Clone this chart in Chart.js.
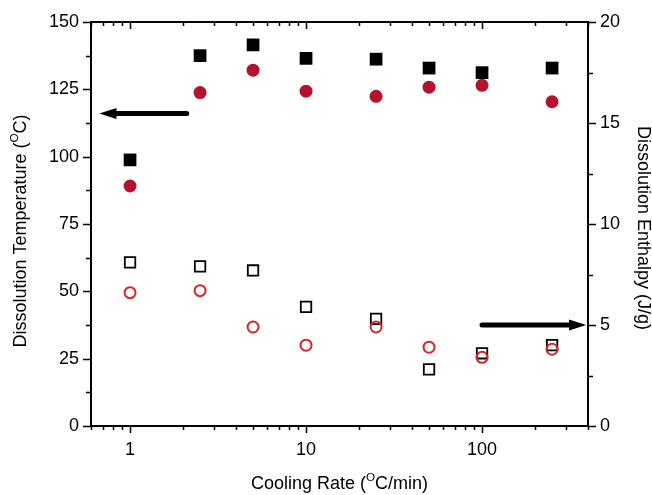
<!DOCTYPE html>
<html>
<head>
<meta charset="utf-8">
<script src="https://cdn.jsdelivr.net/npm/chart.js@4/dist/chart.umd.min.js"></script>
<style>
  html, body { margin: 0; padding: 0; background: #fff; }
  #wrap { width: 652px; height: 495px; }
</style>
</head>
<body>
<div id="wrap"><canvas id="chartCanvas" width="652" height="495"></canvas></div>
<script>
// cooling rate (°C/min) on a log axis
const coolingRates = [1, 2.5, 5, 10, 25, 50, 100, 250];
// dissolution temperature, left axis
const tempSquares = [98.8, 137.5, 141.5, 136.5, 136.2, 132.9, 131.2, 132.9];
const tempCircles = [89.1, 123.8, 132.1, 124.3, 122.4, 125.8, 126.5, 120.4];
// dissolution enthalpy, right axis
const enthalpySquares = [8.1, 7.9, 7.7, 5.9, 5.3, 2.8, 3.6, 4.0];
const enthalpyCircles = [6.6, 6.7, 4.9, 4.0, 4.9, 3.9, 3.4, 3.8];

const xTickLabels = [1, 10, 100];
const leftTicks = [0, 25, 50, 75, 100, 125, 150];
const rightTicks = [0, 5, 10, 15, 20];

const FONT = '"Liberation Sans", Arial, sans-serif';

function pts(ys) {
    return coolingRates.map((x, i) => ({ x: x, y: ys[i] }));
}

// draws text with a superscript part, parts = [[text, isSup], ...]
function drawRich(ctx, parts, size) {
    let total = 0;
    parts.forEach(p => {
        ctx.font = (p[1] ? size * 0.65 : size) + 'px ' + FONT;
        total += ctx.measureText(p[0]).width;
    });
    let x = -total / 2;
    parts.forEach(p => {
        ctx.font = (p[1] ? size * 0.65 : size) + 'px ' + FONT;
        ctx.fillText(p[0], x, p[1] ? -size * 0.42 : 0);
        x += ctx.measureText(p[0]).width;
    });
}

function arrow(ctx, xTail, xTip, y) {
    const dir = xTip > xTail ? 1 : -1;
    const headLen = 17;
    ctx.save();
    ctx.strokeStyle = '#000';
    ctx.fillStyle = '#000';
    ctx.lineWidth = 5;
    ctx.lineCap = 'round';
    ctx.beginPath();
    ctx.moveTo(xTail, y);
    ctx.lineTo(xTip - dir * headLen, y);
    ctx.stroke();
    ctx.beginPath();
    ctx.moveTo(xTip, y);
    ctx.lineTo(xTip - dir * headLen, y - 5.5);
    ctx.lineTo(xTip - dir * headLen, y + 5.5);
    ctx.closePath();
    ctx.fill();
    ctx.restore();
}

const framePlugin = {
    id: 'frame',
    beforeDraw(chart) {
        const ctx = chart.ctx;
        ctx.save();
        ctx.fillStyle = '#fff';
        ctx.fillRect(0, 0, chart.width, chart.height);
        ctx.restore();
    },
    afterDraw(chart) {
        const ctx = chart.ctx;
        const a = chart.chartArea;
        const sx = chart.scales.x, sy = chart.scales.y, sy1 = chart.scales.y1;
        ctx.save();
        ctx.strokeStyle = '#000';
        ctx.lineWidth = 2;
        ctx.strokeRect(a.left, a.top, a.right - a.left, a.bottom - a.top);

        ctx.lineWidth = 1.5;
        ctx.beginPath();
        // log x ticks: bottom outward, top inward
        for (let e = -1; e <= 2; e++) {
            for (let m = 1; m <= 9; m++) {
                const v = m * Math.pow(10, e);
                if (v < sx.min || v > sx.max) continue;
                const px = Math.round(sx.getPixelForValue(v)) + 0.5;
                const len = m === 1 ? 7 : 4;
                ctx.moveTo(px, a.bottom);
                ctx.lineTo(px, a.bottom + len);
                ctx.moveTo(px, a.top);
                ctx.lineTo(px, a.top + len);
            }
        }
        // left ticks
        for (let v = 0; v <= 150; v += 12.5) {
            const py = Math.round(sy.getPixelForValue(v)) + 0.5;
            const len = v % 25 === 0 ? 8 : 5;
            ctx.moveTo(a.left, py);
            ctx.lineTo(a.left - len, py);
        }
        // right ticks
        for (let v = 0; v <= 20; v += 2.5) {
            const py = Math.round(sy1.getPixelForValue(v)) + 0.5;
            const len = v % 5 === 0 ? 8 : 5;
            ctx.moveTo(a.right, py);
            ctx.lineTo(a.right + len, py);
        }
        ctx.stroke();

        // arrows pointing to the axes
        arrow(ctx, sx.getPixelForValue(2.1), sx.getPixelForValue(0.67), sy.getPixelForValue(116));
        arrow(ctx, sx.getPixelForValue(100), sx.getPixelForValue(390), sy1.getPixelForValue(5));

        // axis titles
        ctx.fillStyle = '#000';
        ctx.textBaseline = 'alphabetic';
        ctx.textAlign = 'left';
        ctx.save();
        ctx.translate((a.left + a.right) / 2, 489);
        drawRich(ctx, [['Cooling Rate (', false], ['O', true], ['C/min)', false]], 18);
        ctx.restore();

        ctx.save();
        ctx.translate(26, (a.top + a.bottom) / 2 + 7);
        ctx.rotate(-Math.PI / 2);
        drawRich(ctx, [['Dissolution Temperature (', false], ['O', true], ['C)', false]], 18);
        ctx.restore();

        ctx.save();
        ctx.translate(638, (a.top + a.bottom) / 2 + 4);
        ctx.rotate(Math.PI / 2);
        drawRich(ctx, [['Dissolution Enthalpy (J/g)', false]], 18);
        ctx.restore();

        ctx.restore();
    }
};

const ctx = document.getElementById('chartCanvas').getContext('2d');

new Chart(ctx, {
    type: 'scatter',
    data: {
        datasets: [
            {
                label: 'Temperature (squares)',
                data: pts(tempSquares),
                yAxisID: 'y',
                pointStyle: 'rect',
                pointRadius: 9,
                backgroundColor: '#000',
                borderColor: '#000',
                borderWidth: 0,
                order: 2
            },
            {
                label: 'Temperature (circles)',
                data: pts(tempCircles),
                yAxisID: 'y',
                pointStyle: 'circle',
                pointRadius: 6.5,
                backgroundColor: '#b5122e',
                borderColor: '#b5122e',
                borderWidth: 0,
                order: 1
            },
            {
                label: 'Enthalpy (squares)',
                data: pts(enthalpySquares),
                yAxisID: 'y1',
                pointStyle: 'rect',
                pointRadius: 7.4,
                backgroundColor: 'rgba(0,0,0,0)',
                borderColor: '#000',
                borderWidth: 1.8,
                order: 2
            },
            {
                label: 'Enthalpy (circles)',
                data: pts(enthalpyCircles),
                yAxisID: 'y1',
                pointStyle: 'circle',
                pointRadius: 5.5,
                backgroundColor: 'rgba(0,0,0,0)',
                borderColor: '#d3262e',
                borderWidth: 2,
                order: 1
            }
        ]
    },
    options: {
        responsive: false,
        animation: false,
        layout: { padding: { top: 22, left: 0, right: 0, bottom: 0 } },
        plugins: {
            legend: { display: false },
            tooltip: { enabled: false }
        },
        scales: {
            x: {
                type: 'logarithmic',
                min: 0.6,
                max: 400,
                border: { display: false },
                grid: { display: true, drawOnChartArea: false, tickLength: 8, tickColor: 'rgba(0,0,0,0)' },
                ticks: {
                    autoSkip: false,
                    maxRotation: 0,
                    padding: 5,
                    color: '#000',
                    font: { family: FONT, size: 18 },
                    callback: v => xTickLabels.includes(v) ? String(v) : ''
                },
                afterFit: s => { s.height = 69; }
            },
            y: {
                position: 'left',
                min: 0,
                max: 150,
                border: { display: false },
                grid: { display: true, drawOnChartArea: false, tickLength: 8, tickColor: 'rgba(0,0,0,0)' },
                afterBuildTicks: s => { s.ticks = leftTicks.map(v => ({ value: v })); },
                ticks: {
                    padding: 4,
                    color: '#000',
                    font: { family: FONT, size: 18 }
                },
                afterFit: s => { s.width = 91; }
            },
            y1: {
                position: 'right',
                min: 0,
                max: 20,
                border: { display: false },
                grid: { display: true, drawOnChartArea: false, tickLength: 8, tickColor: 'rgba(0,0,0,0)' },
                afterBuildTicks: s => { s.ticks = rightTicks.map(v => ({ value: v })); },
                ticks: {
                    padding: 4,
                    color: '#000',
                    font: { family: FONT, size: 18 }
                },
                afterFit: s => { s.width = 64; }
            }
        }
    },
    plugins: [framePlugin]
});
</script>
</body>
</html>
